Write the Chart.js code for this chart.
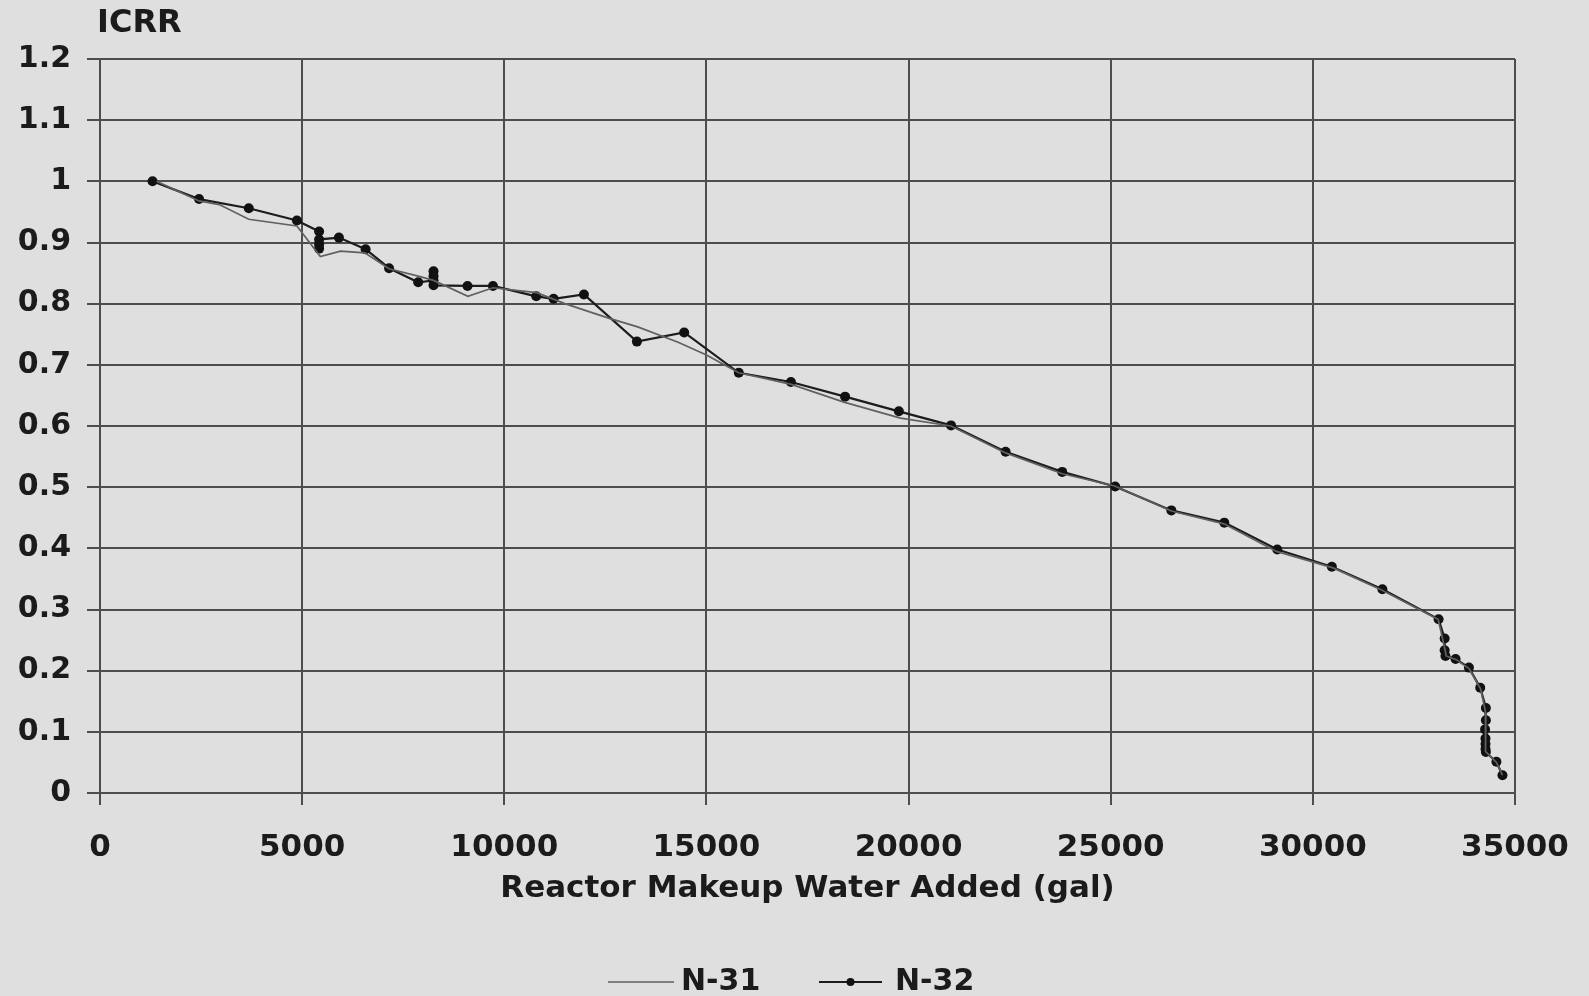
<!DOCTYPE html>
<html>
<head>
<meta charset="utf-8">
<title>ICRR vs Reactor Makeup Water Added</title>
<script src="https://cdn.jsdelivr.net/npm/chart.js@4.4.1/dist/chart.umd.min.js"></script>
<style>
  html, body { margin: 0; padding: 0; background: #dfdfdf; }
  #wrap { width: 1589px; height: 996px; }
</style>
</head>
<body>
<div id="wrap"><canvas id="icrrChart" width="1589" height="996"></canvas></div>
<script>
// N-32 detector (gallons, ICRR)
const n32Gallons = [1300, 2450, 3680, 4870, 5420, 5420, 5420, 5420, 5910, 6570, 7150, 7870,
  8250, 8250, 8250, 8250, 9090, 9720, 10790, 11220, 11970, 13280, 14450, 15800, 17090,
  18430, 19760, 21050, 22400, 23800, 25110, 26500, 27810, 29120, 30470, 31720, 33110,
  33260, 33260, 33280, 33530, 33860, 34140, 34280, 34280, 34260, 34270, 34270, 34270,
  34280, 34540, 34690];
const n32Icrr = [1.0, 0.971, 0.956, 0.936, 0.918, 0.89, 0.897, 0.905, 0.908, 0.889, 0.858, 0.835,
  0.838, 0.853, 0.845, 0.83, 0.829, 0.829, 0.812, 0.808, 0.815, 0.738, 0.753, 0.687, 0.672,
  0.648, 0.624, 0.601, 0.558, 0.525, 0.501, 0.462, 0.442, 0.398, 0.37, 0.333, 0.284,
  0.2525, 0.2335, 0.224, 0.219, 0.205, 0.172, 0.139, 0.119, 0.104, 0.089, 0.08, 0.072,
  0.067, 0.051, 0.029];

// N-31 detector (no markers)
const n31Gallons = [1400, 2450, 2950, 3680, 4870, 5450, 5950, 6550, 7150, 7870, 8250, 9100,
  9720, 10800, 11500, 12000, 12600, 13300, 14300, 15000, 15800, 17100, 18400, 19800,
  21050, 22400, 23800, 25100, 26500, 27800, 29100, 30500, 31700, 33100, 33250, 33300,
  33550, 33870, 34150, 34280, 34270, 34540, 34690];
const n31Icrr = [1.0, 0.968, 0.962, 0.938, 0.927, 0.877, 0.886, 0.883, 0.857, 0.845, 0.838, 0.812,
  0.826, 0.818, 0.8, 0.789, 0.776, 0.762, 0.737, 0.716, 0.687, 0.668, 0.639, 0.613,
  0.6, 0.556, 0.522, 0.502, 0.461, 0.44, 0.395, 0.368, 0.332, 0.284, 0.24, 0.224,
  0.218, 0.203, 0.17, 0.13, 0.068, 0.05, 0.029];

const xTicks = [0, 5000, 10000, 15000, 20000, 25000, 30000, 35000];
const seriesNames = ['N-31', 'N-32'];

const toPoints = (xs, ys) => xs.map((x, i) => ({ x: x, y: ys[i] }));

const FONT = 'DejaVu Sans';
const INK = '#1b1b1b';
const GRID = '#4d4d4d';

// paper background + ICRR label + bottom legend
const paperPlugin = {
  id: 'paper',
  beforeDraw(chart) {
    const ctx = chart.ctx;
    ctx.save();
    ctx.fillStyle = '#dfdfdf';
    ctx.fillRect(0, 0, chart.width, chart.height);
    ctx.restore();
  },
  afterDraw(chart) {
    const ctx = chart.ctx;
    ctx.save();
    ctx.fillStyle = INK;
    ctx.font = 'bold 32px "' + FONT + '"';
    ctx.textBaseline = 'middle';
    ctx.textAlign = 'left';
    ctx.fillText('ICRR', 97, 24);

    // legend
    const ds = chart.data.datasets;
    const items = [
      { ds: ds[0], x0: 608, x1: 674, tx: 681 },
      { ds: ds[1], x0: 819, x1: 882, tx: 895 }
    ];
    const ly = 982;
    ctx.font = 'bold 30px "' + FONT + '"';
    items.forEach(it => {
      ctx.strokeStyle = it.ds.borderColor;
      ctx.lineWidth = it.ds.borderWidth;
      ctx.beginPath();
      ctx.moveTo(it.x0, ly);
      ctx.lineTo(it.x1, ly);
      ctx.stroke();
      if (it.ds.pointRadius > 0) {
        ctx.fillStyle = it.ds.pointBackgroundColor;
        ctx.beginPath();
        ctx.arc((it.x0 + it.x1) / 2, ly, it.ds.pointRadius - 1, 0, Math.PI * 2);
        ctx.fill();
      }
      ctx.fillStyle = INK;
      ctx.fillText(it.ds.label, it.tx, ly);
    });
    ctx.restore();
  }
};

const ctx = document.getElementById('icrrChart').getContext('2d');
new Chart(ctx, {
  type: 'scatter',
  data: {
    datasets: [
      {
        label: seriesNames[0],
        data: toPoints(n31Gallons, n31Icrr),
        showLine: true,
        borderColor: '#606060',
        borderWidth: 1.7,
        pointRadius: 0,
        pointBackgroundColor: '#606060',
        tension: 0
      },
      {
        label: seriesNames[1],
        data: toPoints(n32Gallons, n32Icrr),
        showLine: true,
        borderColor: '#1c1c1c',
        borderWidth: 2.2,
        pointRadius: 5,
        pointBorderWidth: 0,
        pointBackgroundColor: '#111111',
        tension: 0
      }
    ]
  },
  options: {
    responsive: false,
    animation: false,
    layout: { padding: { left: 0, right: 74, top: 59, bottom: 0 } },
    plugins: {
      legend: { display: false },
      tooltip: { enabled: false }
    },
    scales: {
      x: {
        type: 'linear',
        min: 0,
        max: 35000,
        afterBuildTicks: scale => { scale.ticks = xTicks.map(v => ({ value: v })); },
        afterFit: scale => {
          scale.height = 203;
          scale.paddingLeft = 0;
          scale.paddingRight = 0;
        },
        border: { display: false },
        grid: { color: GRID, lineWidth: 2, tickLength: 12, tickColor: GRID },
        ticks: {
          color: INK,
          padding: 24,
          maxRotation: 0,
          font: { family: FONT, size: 31, weight: 'bold' },
          callback: v => String(v)
        },
        title: {
          display: true,
          text: 'Reactor Makeup Water Added (gal)',
          color: INK,
          font: { family: FONT, size: 31, weight: 'bold' },
          padding: { top: 0, bottom: 88 }
        }
      },
      y: {
        min: 0,
        max: 1.2,
        afterFit: scale => { scale.width = 100; },
        border: { display: false },
        grid: { color: GRID, lineWidth: 2, tickLength: 13, tickColor: GRID },
        ticks: {
          stepSize: 0.1,
          color: INK,
          padding: 16,
          font: { family: FONT, size: 30, weight: 'bold' },
          callback: v => String(Math.round(v * 10) / 10)
        }
      }
    }
  },
  plugins: [paperPlugin]
});
</script>
</body>
</html>
